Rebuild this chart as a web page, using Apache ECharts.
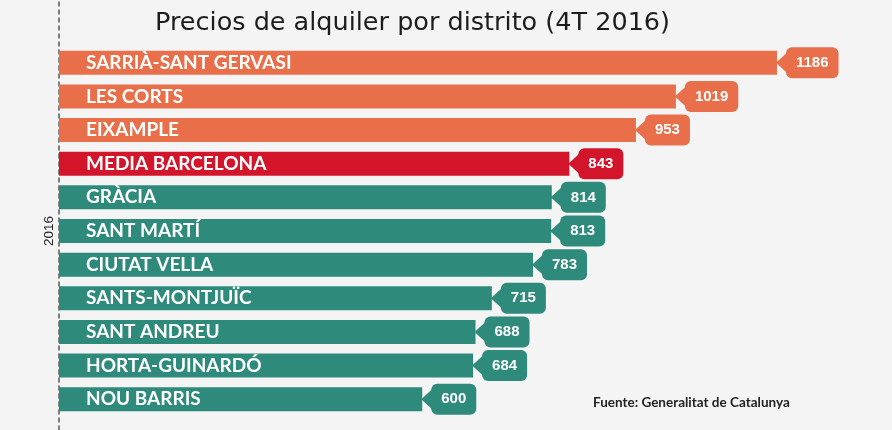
<!DOCTYPE html>
<html>
<head>
<meta charset="utf-8">
<script src="https://cdn.jsdelivr.net/npm/echarts@6/dist/echarts.min.js"></script>
<style>
html,body{margin:0;padding:0;background:#f4f4f4;}
#chart{width:892px;height:430px;}
</style>
</head>
<body>
<div id="chart"></div>
<script>
const titleText = 'Precios de alquiler por distrito (4T 2016)';
const sourceText = 'Fuente: Generalitat de Catalunya';
const yearName = '2016';
const categories = ['SARRIÀ-SANT GERVASI','LES CORTS','EIXAMPLE','MEDIA BARCELONA','GRÀCIA','SANT MARTÍ','CIUTAT VELLA','SANTS-MONTJUÏC','SANT ANDREU','HORTA-GUINARDÓ','NOU BARRIS'];
const values = [1186, 1019, 953, 843, 814, 813, 783, 715, 688, 684, 600];
const averageName = 'MEDIA BARCELONA';

const COL_ABOVE = '#e86f4a';
const COL_AVG = '#d3152b';
const COL_BELOW = '#2e8a7b';
const avgValue = values[categories.indexOf(averageName)];
function colorFor(i){
  if (categories[i] === averageName) return COL_AVG;
  return values[i] > avgValue ? COL_ABOVE : COL_BELOW;
}

const measureCtx = document.createElement('canvas').getContext('2d');
const valFont = 'bold 15px "Liberation Sans", Arial, sans-serif';
measureCtx.font = valFont;

const chart = echarts.init(document.getElementById('chart'), null, {renderer:'canvas'});
chart.setOption({
  backgroundColor: '#f4f4f4',
  animation: false,
  title: [{
    text: titleText, left: 150, top: 5,
    textStyle: {fontFamily: '"DejaVu Sans", sans-serif', fontWeight: 'normal', fontSize: 25.5, color: '#1c1c1c'}
  },{
    text: sourceText, left: 588, top: 391,
    textStyle: {fontFamily: 'Lato, sans-serif', fontWeight: 'bold', fontSize: 13.5, color: '#222'}
  }],
  grid: [
    {left: 59, top: 46, height: 370, right: 46},
    {left: 59, top: 0, bottom: 0, width: 1}
  ],
  xAxis: [
    {type: 'value', min: 0, max: 1300, show: false, gridIndex: 0},
    {type: 'value', show: false, gridIndex: 1}
  ],
  yAxis: [
    {type: 'category', data: categories, inverse: true, gridIndex: 0,
     axisLine: {show: false}, axisTick: {show: false}, axisLabel: {show: false},
     name: yearName, nameLocation: 'middle', nameRotate: 90, nameGap: 3,
     nameTextStyle: {fontFamily: '"Liberation Sans", Arial, sans-serif', fontSize: 13.5, color: '#222'}},
    {type: 'value', gridIndex: 1, axisLabel: {show: false}, axisTick: {show: false}, splitLine: {show: false},
     axisLine: {show: true, lineStyle: {color: '#555', width: 1.5, type: [4, 4]}}}
  ],
  series: [{
    type: 'bar',
    xAxisIndex: 0, yAxisIndex: 0,
    barWidth: 24,
    data: values.map((v, i) => ({value: v, itemStyle: {color: colorFor(i)}})),
    label: {
      show: true, position: 'insideLeft', distance: 27,
      formatter: p => categories[p.dataIndex],
      fontFamily: 'Lato, sans-serif', fontWeight: 'bold', fontSize: 19, color: '#fff'
    }
  },{
    type: 'custom',
    xAxisIndex: 0, yAxisIndex: 0,
    data: values.map((v, i) => [v, i]),
    renderItem: function(params, api){
      const v = api.value(0), idx = api.value(1);
      const p = api.coord([v, idx]);
      const x = p[0], y = p[1];
      const txt = String(v);
      const tw = measureCtx.measureText(txt).width;
      const w = tw + 20, h = 31, al = 9;
      const c = colorFor(idx);
      return {
        type: 'group',
        children: [
          {type: 'polygon', shape: {points: [[x - 1, y], [x + al + 2, y - 11], [x + al + 2, y + 11]]}, style: {fill: c}},
          {type: 'rect', shape: {x: x + al, y: y - h / 2, width: w, height: h, r: 6}, style: {fill: c}},
          {type: 'text', style: {x: x + al + w / 2, y: y, text: txt, font: valFont, fill: '#fff', align: 'center', verticalAlign: 'middle'}}
        ]
      };
    }
  }]
});
</script>
</body>
</html>
